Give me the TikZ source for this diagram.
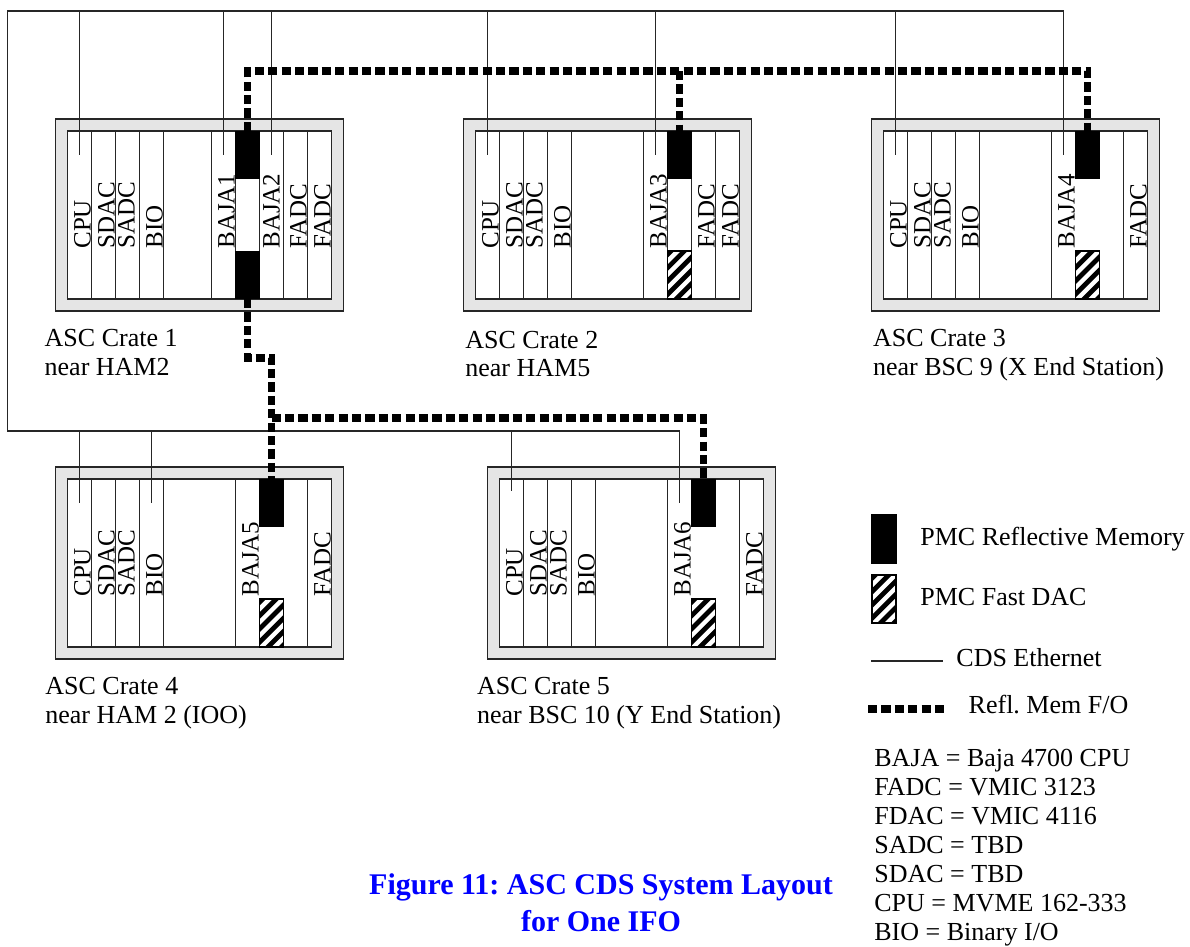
\documentclass[tikz,border=0pt]{standalone}
\usepackage{fontspec}
\setmainfont{Liberation Serif}
\usepackage{xcolor}
\usepackage{tikz}
\frenchspacing

\begin{document}
\begin{tikzpicture}[x=0.5pt, y=-0.5pt,
    frame/.style={draw=black!85, fill=black!10, line width=0.6pt},
    rack/.style={draw=black!85, fill=white, line width=0.6pt},
    slotline/.style={draw=black!85, line width=0.6pt},
    slotlbl/.style={rotate=90, anchor=base west, inner sep=0pt, font=\fontsize{12.5}{15}\selectfont},
    rmem/.style={fill=black, inner sep=0pt, minimum width=12.5pt, minimum height=24pt, anchor=north},
    ether/.style={draw=black!85, line width=0.7pt},
    fibre/.style={line width=3.6pt, dash pattern=on 4.6pt off 2.1pt},
    lbl/.style={anchor=base west, inner sep=0pt, align=left, font=\fontsize{13}{14.2}\selectfont},
    fastdac/.pic={
        \begin{scope}
            \clip (0,0) rectangle (24,48);
            \fill[white] (0,0) rectangle (24,48);
            \foreach \c in {0,13.3,...,80}
                \fill (0,\c) -- (24,\c-24) -- (24,\c-17.3) -- (0,\c+6.7) -- cycle;
        \end{scope}
        \draw[line width=0.6pt] (0,0) rectangle (24,48);
    }]
    \useasboundingbox (0,0) rectangle (1190,947);

    % crate 1
    \begin{scope}[shift={(67.7,131)}]
        \draw[frame] (-12,-12) rectangle (276,180);
        \draw[rack] (0,0) rectangle (264,168);
        \foreach \k in {1,2,3,4,6,7,8,9,10} \draw[slotline] (24*\k,0) -- (24*\k,168);
        \foreach \k/\t/\d in {0/CPU/1,1/SDAC/1,2/SADC/5,3/BIO/1,6/BAJA1/1,8/BAJA2/4,9/FADC/1,10/FADC/1}
            \node[slotlbl] (c1s\k) at ({24*\k+24-\d},118) {\t};
        \node[rmem] (r1a) at (180,0) {};
        \node[rmem, anchor=south] (r1b) at (180,168) {};
        \coordinate (e1a) at (12,24);
        \coordinate (e1b) at (156,24);
        \coordinate (e1c) at (204,24);
    \end{scope}

    % crate 2
    \begin{scope}[shift={(475.7,131)}]
        \draw[frame] (-12,-12) rectangle (276,180);
        \draw[rack] (0,0) rectangle (264,168);
        \foreach \k in {1,2,3,4,7,8,9,10} \draw[slotline] (24*\k,0) -- (24*\k,168);
        \foreach \k/\t/\d in {0/CPU/1,1/SDAC/1,2/SADC/5,3/BIO/1,7/BAJA3/1,9/FADC/1,10/FADC/1}
            \node[slotlbl] (c2s\k) at ({24*\k+24-\d},118) {\t};
        \node[rmem] (r2) at (204,0) {};
        \pic (h2) at (192,120) {fastdac};
        \coordinate (e2a) at (12,24);
        \coordinate (e2b) at (180,24);
    \end{scope}

    % crate 3
    \begin{scope}[shift={(883.5,131)}]
        \draw[frame] (-12,-12) rectangle (276,180);
        \draw[rack] (0,0) rectangle (264,168);
        \foreach \k in {1,2,3,4,7,10} \draw[slotline] (24*\k,0) -- (24*\k,168);
        \foreach \k/\t/\d in {0/CPU/1,1/SDAC/1,2/SADC/5,3/BIO/1,7/BAJA4/1,10/FADC/1}
            \node[slotlbl] (c3s\k) at ({24*\k+24-\d},118) {\t};
        \node[rmem] (r3) at (204,0) {};
        \pic (h3) at (192,120) {fastdac};
        \coordinate (e3a) at (12,24);
        \coordinate (e3b) at (180,24);
    \end{scope}

    % crate 4
    \begin{scope}[shift={(67.5,479)}]
        \draw[frame] (-12,-12) rectangle (276,180);
        \draw[rack] (0,0) rectangle (264,168);
        \foreach \k in {1,2,3,4,7,10} \draw[slotline] (24*\k,0) -- (24*\k,168);
        \foreach \k/\t/\d in {0/CPU/1,1/SDAC/1,2/SADC/5,3/BIO/1,7/BAJA5/1,10/FADC/1}
            \node[slotlbl] (c4s\k) at ({24*\k+24-\d},118) {\t};
        \node[rmem] (r4) at (204,0) {};
        \pic (h4) at (192,120) {fastdac};
        \coordinate (e4a) at (12,24);
        \coordinate (e4b) at (84,24);
    \end{scope}

    % crate 5
    \begin{scope}[shift={(499.5,479)}]
        \draw[frame] (-12,-12) rectangle (276,180);
        \draw[rack] (0,0) rectangle (264,168);
        \foreach \k in {1,2,3,4,7,10} \draw[slotline] (24*\k,0) -- (24*\k,168);
        \foreach \k/\t/\d in {0/CPU/1,1/SDAC/1,2/SADC/5,3/BIO/1,7/BAJA6/1,10/FADC/1}
            \node[slotlbl] (c5s\k) at ({24*\k+24-\d},118) {\t};
        \node[rmem] (r5) at (204,0) {};
        \pic (h5) at (192,120) {fastdac};
        \coordinate (e5a) at (12,12);
        \coordinate (e5b) at (180,24);
    \end{scope}

    % crate names (base = last line)
    \node[lbl] (n1) at (44.3,375) {ASC Crate 1\\near HAM2};
    \node[lbl] (n2) at (465,376.5) {ASC Crate 2\\near HAM5};
    \node[lbl] (n3) at (872.7,375) {ASC Crate 3\\near BSC 9 (X End Station)};
    \node[lbl] (n4) at (45,723.3) {ASC Crate 4\\near HAM 2 (IOO)};
    \node[lbl] (n5) at (476.7,723.3) {ASC Crate 5\\near BSC 10 (Y End Station)};

    % ethernet
    \coordinate (nw) at (7.3,11);
    \coordinate (sw) at (7.3,431);
    \draw[ether] (sw) -- (nw) -| (e3b);
    \draw[ether] (sw) -| (e5b);
    \foreach \p in {e1a,e1b,e1c,e2a,e2b,e3a}
        \draw[ether] (\p |- nw) -- (\p);
    \foreach \p in {e4a,e4b,e5a}
        \draw[ether] (\p |- sw) -- (\p);

    % reflective memory fibre
    \coordinate (ftop) at (0,71);
    \coordinate (fmid) at (0,358);
    \coordinate (flow) at (0,418);
    \draw[fibre] (r1a.north) |- (r3.north |- ftop) -- (r3.north);
    \draw[fibre] (r2.north |- ftop) -- (r2.north);
    \draw[fibre] (r1b.south) -- (r1b.south |- fmid) -- (r4.north |- fmid) -- (r4.north);
    \draw[fibre] (r4.north |- flow) -| (r5.north);

    % legend
    \node[rmem, minimum width=12.8pt, minimum height=24.6pt] (kmem) at (884,514) {};
    \node[lbl] (tmem) at (920,545) {PMC Reflective Memory};
    \pic (kdac) at (872,575) {fastdac};
    \node[lbl] (tdac) at (920,605) {PMC Fast DAC};
    \coordinate (ke1) at (871,661);
    \coordinate (ke2) at (942.7,661);
    \draw[ether] (ke1) -- (ke2);
    \node[lbl] (teth) at (956,666) {CDS Ethernet};
    \coordinate (kf1) at (868,709);
    \coordinate (kf2) at (944,709);
    \draw[fibre] (kf1) -- (kf2);
    \node[lbl] (tfib) at (968.3,713.3) {Refl. Mem F/O};
    \node[lbl, font=\fontsize{13}{14.45}\selectfont] (defs) at (874,940)
        {BAJA = Baja 4700 CPU\\FADC = VMIC 3123\\FDAC = VMIC 4116\\SADC = TBD\\SDAC = TBD\\CPU = MVME 162-333\\BIO = Binary I/O};

    % caption
    \node[anchor=base, inner sep=0pt, align=center, text=blue, font=\bfseries\fontsize{15}{18.5}\selectfont] (title) at (601,931.7)
        {Figure 11: ASC CDS System Layout\\for One IFO};
\end{tikzpicture}
\end{document}
